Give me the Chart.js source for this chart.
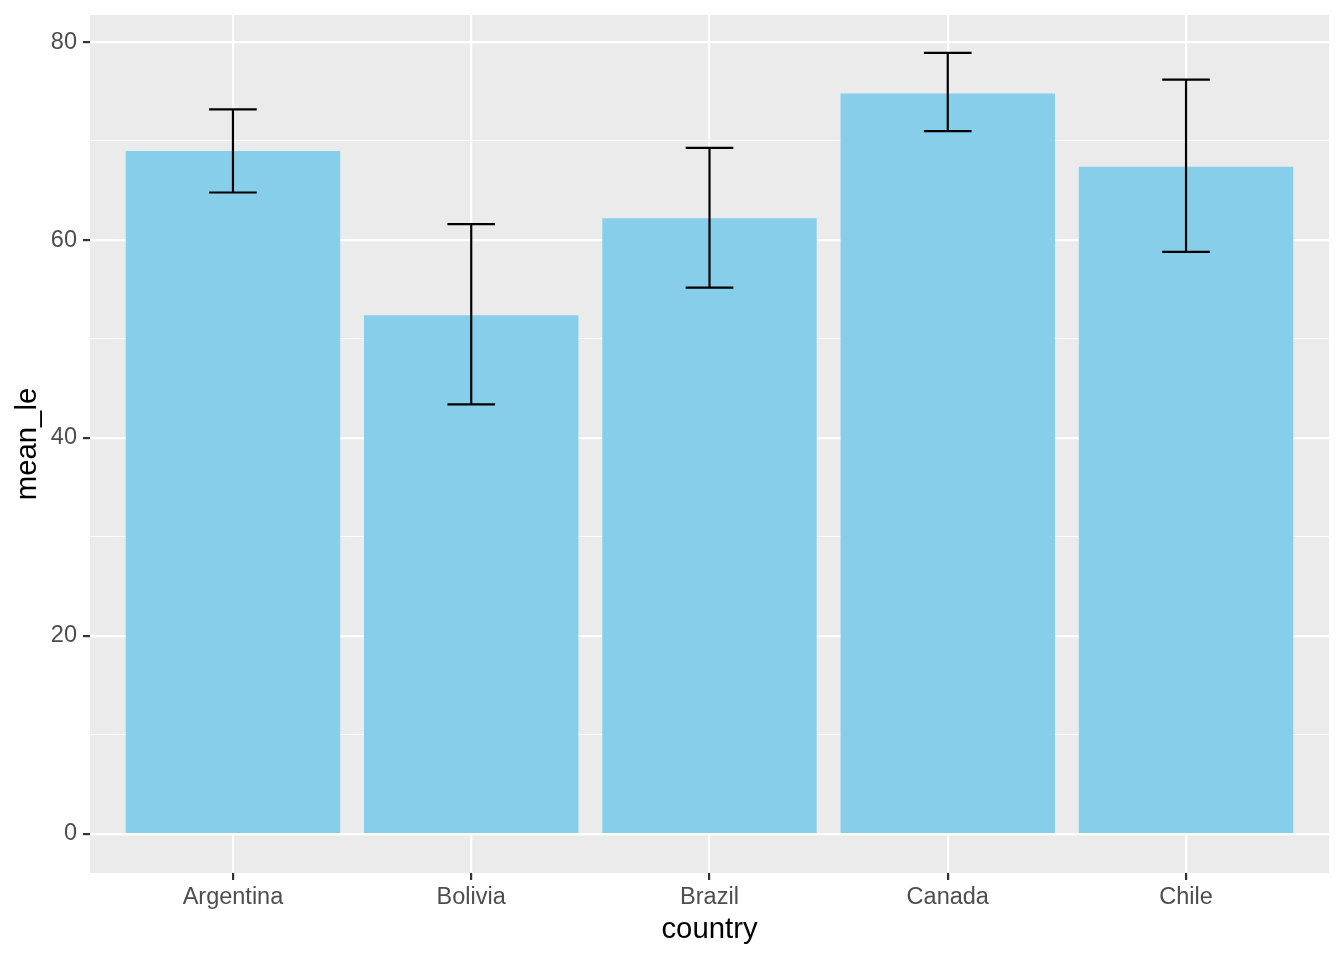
<!DOCTYPE html>
<html lang="en">
<head>
    <meta charset="UTF-8">
    <title>mean_le by country</title>
    <script src="https://cdn.jsdelivr.net/npm/chart.js"></script>
    <style>
        * {
            margin: 0;
            padding: 0;
            box-sizing: border-box;
        }

        body {
            background: #ffffff;
        }

        .chart-box {
            width: 1344px;
            height: 960px;
            position: relative;
        }
    </style>
</head>
<body>
    <div class="chart-box">
        <canvas id="barChart"></canvas>
    </div>

    <script>
        // data
        const countries = ['Argentina', 'Bolivia', 'Brazil', 'Canada', 'Chile'];
        const meanLe = [69.0, 52.4, 62.2, 74.8, 67.4];
        const errLow = [64.8, 43.4, 55.2, 71.0, 58.8];
        const errHigh = [73.2, 61.6, 69.3, 78.9, 76.2];
        const yTicks = [0, 10, 20, 30, 40, 50, 60, 70, 80];

        const isMajor = v => v % 20 === 0;

        // grey panel like ggplot
        const panelBg = {
            id: 'panelBg',
            beforeDraw(chart) {
                const { ctx, chartArea: a } = chart;
                ctx.save();
                ctx.fillStyle = '#EBEBEB';
                ctx.fillRect(a.left, a.top, a.right - a.left, a.bottom - a.top);
                ctx.restore();
            }
        };

        // error bars (width 0.2 category)
        const errorBars = {
            id: 'errorBars',
            afterDatasetsDraw(chart) {
                const { ctx, scales: { x, y } } = chart;
                const half = (x.getPixelForValue(0.1) - x.getPixelForValue(0));
                ctx.save();
                ctx.strokeStyle = '#000000';
                ctx.lineWidth = 2.2;
                ctx.lineCap = 'butt';
                countries.forEach((c, i) => {
                    const cx = x.getPixelForValue(i);
                    const top = y.getPixelForValue(errHigh[i]);
                    const bot = y.getPixelForValue(errLow[i]);
                    ctx.beginPath();
                    ctx.moveTo(cx, top);
                    ctx.lineTo(cx, bot);
                    ctx.moveTo(cx - half, top);
                    ctx.lineTo(cx + half, top);
                    ctx.moveTo(cx - half, bot);
                    ctx.lineTo(cx + half, bot);
                    ctx.stroke();
                });
                ctx.restore();
            }
        };

        new Chart(document.getElementById('barChart').getContext('2d'), {
            type: 'bar',
            data: {
                datasets: [{
                    label: 'mean_le',
                    data: countries.map((c, i) => ({ x: i, y: meanLe[i] })),
                    backgroundColor: '#87CEEB',
                    borderWidth: 0,
                    barPercentage: 0.9,
                    categoryPercentage: 1
                }]
            },
            options: {
                responsive: true,
                maintainAspectRatio: false,
                animation: false,
                layout: { padding: { left: 0, right: 15, top: 15, bottom: 0 } },
                plugins: {
                    legend: { display: false },
                    tooltip: { enabled: false }
                },
                font: { family: '"Liberation Sans", Arial, sans-serif' },
                scales: {
                    x: {
                        type: 'linear',
                        min: -0.6,
                        max: 4.6,
                        offset: false,
                        afterBuildTicks: s => { s.ticks = countries.map((c, i) => ({ value: i })); },
                        afterFit: s => { s.height = 87; s.paddingLeft = 0; s.paddingRight = 0; },
                        border: { display: false },
                        grid: {
                            offset: false,
                            color: '#FFFFFF',
                            lineWidth: 2.2,
                            drawTicks: true,
                            tickLength: 7,
                            tickColor: '#333333',
                            tickWidth: 2.2
                        },
                        ticks: {
                            callback: v => countries[v],
                            color: '#4D4D4D',
                            padding: 3,
                            maxRotation: 0,
                            autoSkip: false,
                            font: { family: '"Liberation Sans", Arial, sans-serif', size: 23.5 }
                        },
                        title: {
                            display: true,
                            text: 'country',
                            color: '#000000',
                            padding: { top: 0, bottom: 13 },
                            font: { family: '"Liberation Sans", Arial, sans-serif', size: 29.3 }
                        }
                    },
                    y: {
                        min: -3.94,
                        max: 82.73,
                        afterBuildTicks: s => { s.ticks = yTicks.map(v => ({ value: v })); },
                        afterFit: s => { s.width = 90; s.paddingTop = 0; s.paddingBottom = 0; },
                        border: { display: false },
                        grid: {
                            color: '#FFFFFF',
                            lineWidth: c => isMajor(c.tick.value) ? 2.2 : 1.1,
                            drawTicks: true,
                            tickLength: 7,
                            tickColor: c => isMajor(c.tick.value) ? '#333333' : 'rgba(0,0,0,0)',
                            tickWidth: 2.2
                        },
                        ticks: {
                            callback: v => isMajor(v) ? String(v) : '',
                            color: '#4D4D4D',
                            padding: 6,
                            autoSkip: false,
                            font: { family: '"Liberation Sans", Arial, sans-serif', size: 23.5 }
                        },
                        title: {
                            display: true,
                            text: 'mean_le',
                            color: '#000000',
                            padding: { top: 10, bottom: 0 },
                            font: { family: '"Liberation Sans", Arial, sans-serif', size: 29.3 }
                        }
                    }
                }
            },
            plugins: [panelBg, errorBars]
        });
    </script>
</body>
</html>
